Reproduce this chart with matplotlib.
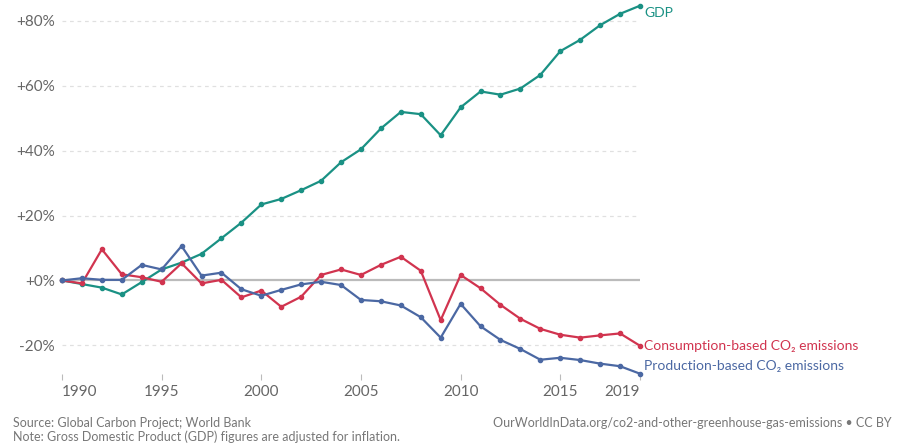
import numpy as np
import matplotlib
matplotlib.use("Agg")
import matplotlib.pyplot as plt

plt.rcParams['font.family'] = ['Lato', 'DejaVu Sans']

# data (% change relative to 1990)
years = list(range(1990, 2020))
gdp = [0, -1.1, -2.2, -4.3, -0.5, 3.4, 5.5, 8.2, 13.0, 17.8,
       23.4, 25.1, 27.8, 30.7, 36.4, 40.4, 46.8, 51.9, 51.2, 44.7,
       53.3, 58.2, 57.2, 59.1, 63.3, 70.6, 74.1, 78.6, 82.1, 84.6]
consumption = [0, -0.9, 9.6, 1.9, 1.0, -0.4, 5.3, -0.9, 0.2, -5.2,
               -3.1, -8.1, -5.0, 1.7, 3.4, 1.7, 4.8, 7.3, 3.0, -12.2,
               1.7, -2.4, -7.5, -11.8, -14.9, -16.7, -17.6, -16.9, -16.3, -20.1]
production = [0, 0.7, 0.2, 0.2, 4.8, 3.4, 10.6, 1.5, 2.4, -2.7,
              -4.7, -2.9, -1.2, -0.4, -1.4, -6.0, -6.4, -7.7, -11.3, -17.6,
              -7.2, -14.1, -18.3, -21.1, -24.4, -23.8, -24.5, -25.6, -26.4, -28.7]

y_ticks = [-20, 0, 20, 40, 60, 80]
x_ticks = [1990, 1995, 2000, 2005, 2010, 2015, 2019]

series = [
    (gdp, '#1a9184', 'GDP'),
    (consumption, '#d1344f', 'Consumption-based CO₂ emissions'),
    (production, '#4b68a3', 'Production-based CO₂ emissions'),
]

W, H = 903, 447
fig = plt.figure(figsize=(W / 100, H / 100), dpi=100)
# axes box in pixel terms: x 62..640, y 5.7..373.7
ax = fig.add_axes([62 / W, (H - 373.7) / H, (640 - 62) / W, (373.7 - 5.7) / H])
ax.set_xlim(1990, 2019)
ax.set_ylim(-28.7, 84.6)

for t in y_ticks:
    if t == 0:
        ax.axhline(0, color='#bbbbbb', lw=1.6, zorder=1)
    else:
        ax.axhline(t, color='#e0e0e0', lw=0.9, ls=(0, (3, 3)), zorder=1)

for vals, col, name in series:
    ax.plot(years, vals, color=col, lw=1.6, marker='o', ms=3,
            clip_on=False, zorder=3)

# end-of-line labels
label_y = {'GDP': 84.6 - 2.3, 'Consumption-based CO₂ emissions': -20.1,
           'Production-based CO₂ emissions': -26.3}
for vals, col, name in series:
    ax.text(2019.2, label_y[name], name, color=col, fontsize=10,
            ha='left', va='center', clip_on=False)

for s in ax.spines.values():
    s.set_visible(False)

ax.set_yticks(y_ticks)
ax.set_yticklabels([('+' if t >= 0 else '') + f'{t}%' for t in y_ticks])
ax.tick_params(axis='y', length=0, pad=5, labelsize=11, labelcolor='#666666')

ax.set_xticks(x_ticks)
ax.set_xticklabels([str(t) for t in x_ticks])
ax.tick_params(axis='x', length=4, width=0.8, color='#bbbbbb', pad=4,
               labelsize=11, labelcolor='#666666')
ax.get_xticklabels()[-1].set_horizontalalignment('right')
ax.get_xticklabels()[0].set_horizontalalignment('left')

fig.text(13 / W, 1 - 423 / H, 'Source: Global Carbon Project; World Bank',
         fontsize=9, color='#777777', va='center')
fig.text(13 / W, 1 - 437 / H,
         'Note: Gross Domestic Product (GDP) figures are adjusted for inflation.',
         fontsize=9, color='#777777', va='center')
fig.text(493 / W, 1 - 423 / H,
         'OurWorldInData.org/co2-and-other-greenhouse-gas-emissions • CC BY',
         fontsize=9, color='#777777', va='center')

fig.savefig('out.png', dpi=100)
